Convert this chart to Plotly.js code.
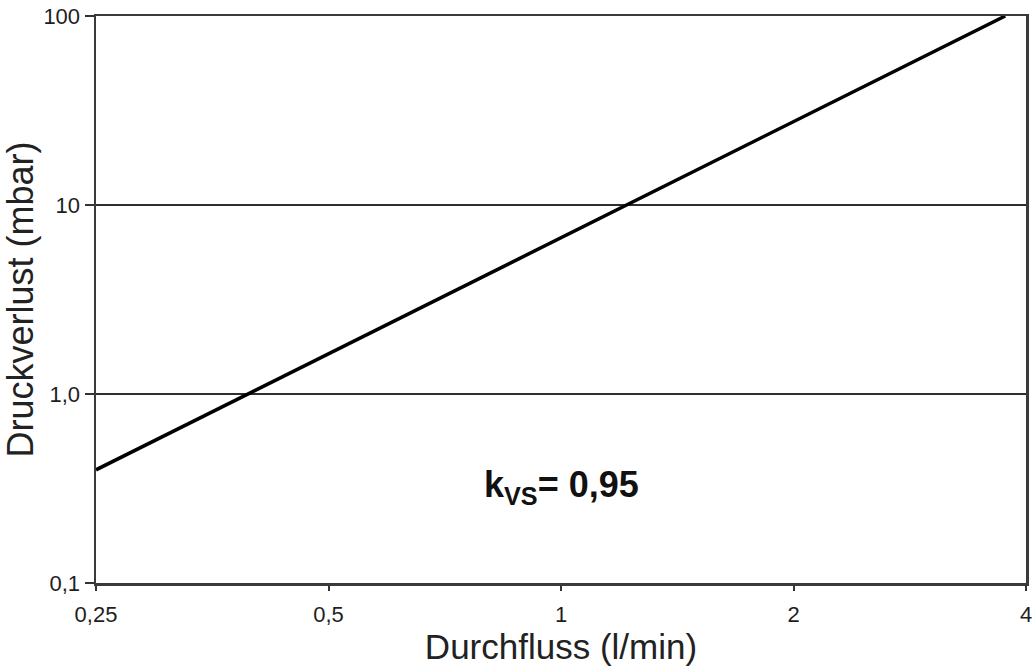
<!DOCTYPE html>
<html>
<head>
<meta charset="utf-8">
<script src="https://cdn.plot.ly/plotly-3.0.1.min.js"></script>
<style>html,body{margin:0;padding:0;background:#fff;}#chart{width:1036px;height:666px;}</style>
</head>
<body>
<div id="chart"></div>
<script>
// Data (log-log straight line)
const flowLmin = [0.25, 0.393, 1.218, 3.76];
const pressureMbar = [0.397, 1.0, 10.0, 100.0];

const xTickVals = [0.25, 0.5, 1, 2, 4];
const xTickText = ['0,25', '0,5', '1', '2', '4'];
const yTickVals = [0.1, 1, 10, 100];
const yTickText = ['0,1', '1,0', '10', '100'];

const xTitle = 'Durchfluss (l/min)';
const yTitle = 'Druckverlust (mbar)';
const kvsLabel = '<b>k<sub>VS</sub>= 0,95</b>';

const FONT = 'Liberation Sans, Arial, sans-serif';

const trace = {
  x: flowLmin,
  y: pressureMbar,
  type: 'scatter',
  mode: 'lines',
  line: {color: '#000000', width: 3.5},
  hoverinfo: 'skip',
  showlegend: false
};

const layout = {
  width: 1036,
  height: 666,
  margin: {l: 96, r: 10, t: 16, b: 83},
  paper_bgcolor: '#ffffff',
  plot_bgcolor: '#ffffff',
  font: {family: FONT, color: '#222222'},
  xaxis: {
    type: 'log',
    range: [Math.log10(0.25), Math.log10(4)],
    tickmode: 'array',
    tickvals: xTickVals,
    ticktext: xTickText,
    ticks: 'outside',
    ticklen: 5,
    tickwidth: 2,
    tickcolor: '#333333',
    ticklabelstandoff: 5,
    tickfont: {family: FONT, size: 22, color: '#1e1e1e'},
    showgrid: false,
    zeroline: false,
    showline: true,
    linecolor: '#3a3a3a',
    linewidth: 2.5,
    mirror: true,
    title: {text: xTitle, font: {family: FONT, size: 35, color: '#222222'}, standoff: 0}
  },
  yaxis: {
    type: 'log',
    range: [-1, 2],
    tickmode: 'array',
    tickvals: yTickVals,
    ticktext: yTickText,
    ticks: 'outside',
    ticklen: 9,
    tickwidth: 2,
    tickcolor: '#333333',
    tickfont: {family: FONT, size: 22, color: '#1e1e1e'},
    showgrid: true,
    gridcolor: '#2e2e2e',
    gridwidth: 2.5,
    zeroline: false,
    showline: true,
    linecolor: '#3a3a3a',
    linewidth: 2.5,
    mirror: true,
    title: {text: yTitle, font: {family: FONT, size: 36, color: '#222222'}, standoff: 6}
  },
  annotations: [{
    xref: 'paper', yref: 'paper',
    x: 0.501, y: 0.169,
    xanchor: 'center', yanchor: 'middle',
    text: kvsLabel,
    showarrow: false,
    font: {family: FONT, size: 36, color: '#111111'}
  }]
};

Plotly.newPlot('chart', [trace], layout, {displayModeBar: false, staticPlot: true});
</script>
</body>
</html>
